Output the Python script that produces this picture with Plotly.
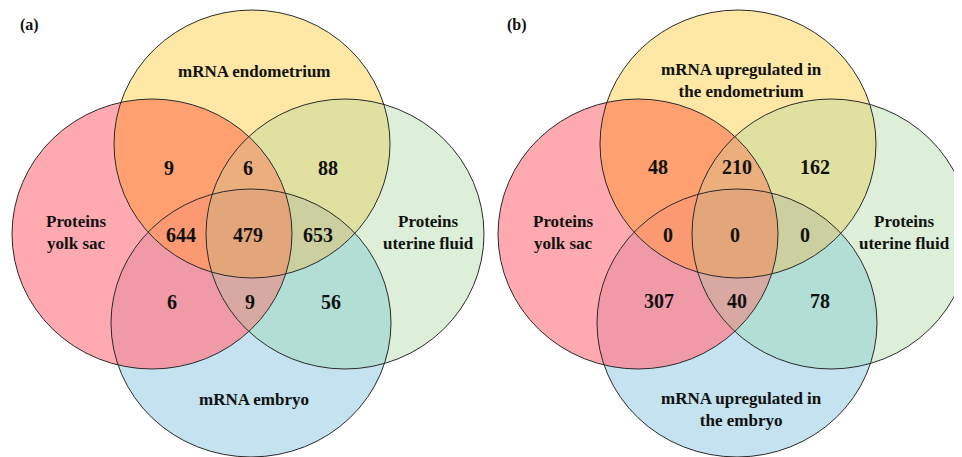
import numpy as np
import plotly.graph_objects as go

# ---------------- data ----------------
panel_tags = ["(a)", "(b)"]
set_labels_a = ["Proteins<br>yolk sac", "mRNA endometrium", "Proteins<br>uterine fluid", "mRNA embryo"]
set_labels_b = ["Proteins<br>yolk sac", "mRNA upregulated in<br>the endometrium",
                "Proteins<br>uterine fluid", "mRNA upregulated in<br>the embryo"]
region_keys = ["RY", "RYG", "YG", "RYB", "RYGB", "YGB", "RB", "RGB", "GB"]
counts_a = [9, 6, 88, 644, 479, 653, 6, 9, 56]
counts_b = [48, 210, 162, 0, 0, 0, 307, 40, 78]

# ---------------- layout / style ----------------
PAGE_W, PAGE_H = 962, 457
PAGE_OFFSET = 8          # the page body shifts the figure by this many pixels
W, H = PAGE_W - PAGE_OFFSET, PAGE_H - PAGE_OFFSET   # figure fits the window without scrollbars
SHIFT_B = 486
# ellipses: R (yolk sac), Y (endometrium), G (uterine fluid), B (embryo)
ellipses = {
    "R": (152, 234, 140, 135),
    "Y": (252, 144, 138, 134),
    "G": (345, 234, 139, 135),
    "B": (251, 323, 140, 134),
}
bit = {"R": 1, "Y": 2, "G": 4, "B": 8}
region_colors = {
    1: (255, 170, 176),
    2: (255, 232, 166),
    4: (221, 239, 216),
    8: (196, 226, 240),
    3: (255, 160, 112),
    6: (224, 224, 160),
    9: (240, 154, 168),
    12: (178, 222, 214),
    5: (235, 200, 190),
    10: (225, 200, 200),
    7: (237, 174, 126),
    11: (251, 154, 114),
    14: (204, 208, 158),
    13: (216, 169, 163),
    15: (227, 166, 123),
}
count_pos_a = {"RY": (169, 168), "RYG": (248, 168), "YG": (328, 168),
               "RYB": (181, 235), "RYGB": (248, 235), "YGB": (318, 235),
               "RB": (172, 302), "RGB": (250, 302), "GB": (331, 302)}
count_pos_b = {"RY": (658, 167), "RYG": (737, 167), "YG": (815, 167),
               "RYB": (668, 235), "RYGB": (735, 235), "YGB": (805, 235),
               "RB": (659, 301), "RGB": (737, 301), "GB": (820, 301)}
label_pos_a = [(76, 232), (254, 71), (428, 232), (254, 399)]
label_pos_b = [(563, 232), (741, 80), (904, 232), (741, 409)]
tag_pos = [(29, 25), (517, 25)]
FONT = "Liberation Serif"

# ---------------- region image ----------------
x_lo, y_lo = PAGE_OFFSET, PAGE_OFFSET
xs = np.arange(W) + 0.5 + x_lo
ys = np.arange(H) + 0.5 + y_lo
X, Y = np.meshgrid(xs, ys)
img = np.full((H, W, 3), 255, dtype=np.uint8)
for shift in (0, SHIFT_B):
    mask = np.zeros((H, W), dtype=np.int32)
    for k, (cx, cy, rx, ry) in ellipses.items():
        inside = ((X - cx - shift) / rx) ** 2 + ((Y - cy) / ry) ** 2 <= 1.0
        mask |= np.where(inside, bit[k], 0)
    for code, col in region_colors.items():
        img[mask == code] = col

fig = go.Figure()
fig.add_trace(go.Image(z=img, x0=x_lo + 0.5, y0=y_lo + 0.5, dx=1, dy=1, hoverinfo="skip"))

shapes = []
for shift in (0, SHIFT_B):
    for k, (cx, cy, rx, ry) in ellipses.items():
        shapes.append(dict(type="circle", xref="x", yref="y",
                           x0=cx + shift - rx, x1=cx + shift + rx,
                           y0=cy - ry, y1=cy + ry,
                           line=dict(color="#2a2a2a", width=1),
                           fillcolor="rgba(0,0,0,0)"))

annotations = []
for counts, pos in ((counts_a, count_pos_a), (counts_b, count_pos_b)):
    for key, val in zip(region_keys, counts):
        x, y = pos[key]
        annotations.append(dict(x=x, y=y, xref="x", yref="y", text=f"<b>{val}</b>",
                                showarrow=False, font=dict(family=FONT, size=20, color="#111111")))
for labels, pos in ((set_labels_a, label_pos_a), (set_labels_b, label_pos_b)):
    for lab, (x, y) in zip(labels, pos):
        annotations.append(dict(x=x, y=y, xref="x", yref="y", text=f"<b>{lab}</b>",
                                showarrow=False, align="center",
                                font=dict(family=FONT, size=17, color="#111111")))
for tag, (x, y) in zip(panel_tags, tag_pos):
    annotations.append(dict(x=x, y=y, xref="x", yref="y", text=f"<b>{tag}</b>",
                            showarrow=False, font=dict(family=FONT, size=16, color="#111111")))

fig.update_layout(
    width=W, height=H, margin=dict(l=0, r=0, t=0, b=0),
    paper_bgcolor="white", plot_bgcolor="white",
    xaxis=dict(range=[x_lo, x_lo + W], visible=False, fixedrange=True),
    yaxis=dict(range=[y_lo + H, y_lo], visible=False, fixedrange=True),
    shapes=shapes, annotations=annotations, showlegend=False,
)
fig.write_html("out.html")
